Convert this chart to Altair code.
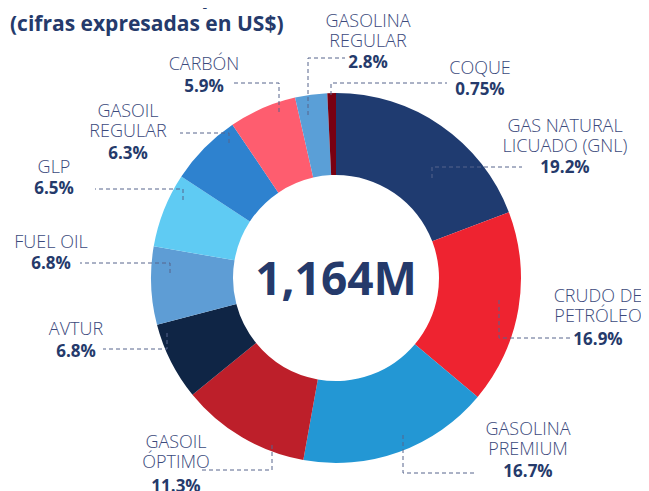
import altair as alt
import pandas as pd

# ---- data ----
categories = ["GAS NATURAL LICUADO (GNL)", "CRUDO DE PETRÓLEO", "GASOLINA PREMIUM",
              "GASOIL ÓPTIMO", "AVTUR", "FUEL OIL", "GLP", "GASOIL REGULAR",
              "CARBÓN", "GASOLINA REGULAR", "COQUE"]
shares = [19.2, 16.9, 16.7, 11.3, 6.8, 6.8, 6.5, 6.3, 5.9, 2.8, 0.75]
pct_labels = ["19.2%", "16.9%", "16.7%", "11.3%", "6.8%", "6.8%", "6.5%",
              "6.3%", "5.9%", "2.8%", "0.75%"]
name_lines = [["GAS NATURAL", "LICUADO (GNL)"], ["CRUDO DE", "PETRÓLEO"],
              ["GASOLINA", "PREMIUM"], ["GASOIL", "ÓPTIMO"], ["AVTUR"], ["FUEL OIL"],
              ["GLP"], ["GASOIL", "REGULAR"], ["CARBÓN"], ["GASOLINA", "REGULAR"], ["COQUE"]]
colors = ["#1f3b70", "#ee2330", "#2397d4", "#bd1f2a", "#0f2545", "#5e9dd5",
          "#5fcbf3", "#2e82cf", "#fe5d6f", "#5a9fd7", "#790011"]
total_label = "1,164M"
title_line1 = "4° trimestre, 2023"
title_line2 = "(cifras expresadas en US$)"

# ---- layout (page pixel coordinates) ----
W, H = 633, 483
center = (336, 278)
label_x = [565, 598, 528, 176, 76, 51, 54, 128, 204, 368, 480]
label_y0 = [127, 297, 430, 443, 330, 243, 168, 112, 65, 22, 69]
pct_y = [168, 340, 472, 487, 352, 264, 189, 154, 87, 63, 90]
line_gap = 20
leaders = [
    [(432, 178), (432, 167), (522, 167)],
    [(499, 300), (499, 338), (573, 338)],
    [(403, 435), (403, 473), (477, 473)],
    [(272, 445), (272, 470), (200, 470)],
    [(167, 333), (167, 349), (103, 349)],
    [(170, 273), (170, 263), (80, 263)],
    [(183, 200), (183, 189), (95, 189)],
    [(229, 143), (229, 133), (180, 133)],
    [(279, 112), (279, 83), (233, 83)],
    [(308, 115), (308, 58), (345, 58)],
    [(331, 95), (331, 83), (447, 83)],
]

navy = "#253a6b"
name_color = "#3b4a7c"
font = "Open Sans"

xs = alt.Scale(domain=[8, 8 + W], nice=False, zero=False)
ys = alt.Scale(domain=[8, 8 + H], reverse=True, nice=False, zero=False)

slices = pd.DataFrame({"cat": categories, "share": shares,
                       "idx": list(range(len(categories)))})

donut = alt.Chart(slices).mark_arc(radius=185, innerRadius=103).encode(
    theta=alt.Theta("share:Q", stack=True),
    order=alt.Order("idx:Q"),
    color=alt.Color("cat:N", scale=alt.Scale(domain=categories, range=colors), legend=None),
    x=alt.datum(center[0], scale=xs, axis=None),
    y=alt.datum(center[1], scale=ys, axis=None),
)

lead_rows = []
for c, pts in zip(categories, leaders):
    for i, (px, py) in enumerate(pts):
        lead_rows.append({"cat": c, "i": i, "x": px, "y": py})
lead_df = pd.DataFrame(lead_rows)
lead = alt.Chart(lead_df).mark_line(strokeDash=[4, 3], strokeWidth=1, color="#56648c").encode(
    x=alt.X("x:Q", scale=xs, axis=None),
    y=alt.Y("y:Q", scale=ys, axis=None),
    detail="cat:N",
    order="i:Q",
)

name_rows = []
for lines, lx, ly in zip(name_lines, label_x, label_y0):
    for k, t in enumerate(lines):
        name_rows.append({"t": t, "x": lx, "y": ly + k * line_gap})
names = alt.Chart(pd.DataFrame(name_rows)).mark_text(
    font=font, fontSize=18, fontWeight=300, color=name_color, align="center", baseline="middle"
).encode(x=alt.X("x:Q", scale=xs, axis=None), y=alt.Y("y:Q", scale=ys, axis=None), text="t:N")

pcts = alt.Chart(pd.DataFrame({"t": pct_labels, "x": label_x, "y": pct_y})).mark_text(
    font=font, fontSize=17, fontWeight="bold", color=navy, align="center", baseline="middle"
).encode(x=alt.X("x:Q", scale=xs, axis=None), y=alt.Y("y:Q", scale=ys, axis=None), text="t:N")

center_txt = alt.Chart(pd.DataFrame({"t": [total_label], "x": [center[0]], "y": [281]})).mark_text(
    font=font, fontSize=46, fontWeight="bold", color=navy, align="center", baseline="middle"
).encode(x=alt.X("x:Q", scale=xs, axis=None), y=alt.Y("y:Q", scale=ys, axis=None), text="t:N")

titles = alt.Chart(pd.DataFrame({"t": [title_line1, title_line2], "x": [10, 10], "y": [5, 31],
                                 "s": [32, 21]})).mark_text(
    font=font, fontWeight="bold", color=navy, align="left", baseline="alphabetic"
).encode(x=alt.X("x:Q", scale=xs, axis=None), y=alt.Y("y:Q", scale=ys, axis=None), text="t:N",
         size=alt.Size("s:Q", scale=None, legend=None))

chart = alt.layer(donut, lead, names, pcts, center_txt, titles).properties(
    width=W, height=H, padding=0, background="white",
    autosize=alt.AutoSizeParams(type="none")
).configure_view(stroke=None)

chart.save("out.html", embed_options={"renderer": "svg", "actions": False})
